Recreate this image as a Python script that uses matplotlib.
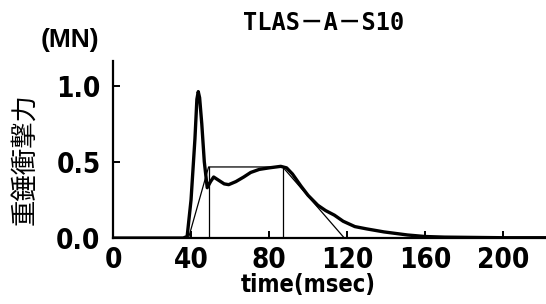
import matplotlib
matplotlib.use("Agg")
import matplotlib.pyplot as plt

# measured impact force (thick curve)
t_meas = [0, 36, 38, 40, 42, 43, 43.7, 44.4, 45.5, 46.8, 48.3, 50, 51.6, 54, 57, 59.3, 63, 67, 70.6,
          75, 80, 86, 89, 92, 96.4, 100, 105, 109, 113.5, 118, 124, 130, 139, 151, 160, 170, 185, 200, 222]
f_meas = [0, 0, 0.01, 0.25, 0.65, 0.91, 0.96, 0.92, 0.75, 0.5, 0.33, 0.37, 0.40, 0.38, 0.355, 0.35, 0.37, 0.40, 0.43,
          0.45, 0.46, 0.47, 0.46, 0.42, 0.34, 0.28, 0.215, 0.18, 0.15, 0.11, 0.075, 0.06, 0.04, 0.02, 0.01, 0.006, 0.004, 0.002, 0.002]

# idealised trapezoid (thin lines)
t_trap = [0, 38.7, 49, 87, 118.6, 222]
f_trap = [0, 0, 0.466, 0.466, 0, 0]
v_lines = [49, 87]

x_ticks = [0, 40, 80, 120, 160, 200]
y_ticks = [0.0, 0.5, 1.0]

fig = plt.figure(figsize=(5.46, 3.04), dpi=100)
ax = fig.add_axes([0.207, 0.217, 0.793, 0.582])

ax.plot(t_meas, f_meas, color="black", lw=2.4, solid_joinstyle="round", zorder=3)
ax.plot(t_trap, f_trap, color="black", lw=0.9, zorder=2)
for v in v_lines:
    ax.plot([v, v], [0, f_trap[2]], color="black", lw=0.9, zorder=2)

ax.set_xlim(0, 222)
ax.set_ylim(0, 1.16)
ax.spines["top"].set_visible(False)
ax.spines["right"].set_visible(False)
ax.spines["left"].set_linewidth(1.6)
ax.spines["bottom"].set_linewidth(1.6)

tick_kw = dict(family="DejaVu Sans", fontstretch="condensed", fontweight="bold", fontsize=20)
ax.set_xticks(x_ticks)
ax.set_yticks(y_ticks)
ax.set_xticklabels([str(x) for x in x_ticks], **tick_kw)
ax.set_yticklabels([f"{y:.1f}" for y in y_ticks], **tick_kw)
ax.tick_params(axis="x", direction="in", length=5, width=1.4, pad=6)
ax.tick_params(axis="y", direction="in", length=5, width=1.4, pad=9)

# x label sits left of the axes centre in the original
ax.set_xlabel("time(msec)", family="DejaVu Sans", fontstretch="condensed",
              fontweight="bold", fontsize=17)
ax.xaxis.set_label_coords(0.45, -0.2)

fig.text(0.045, 0.477, "重錘衝撃力", rotation=90, ha="center", va="center",
         family=["Noto Sans CJK JP", "DejaVu Sans"], fontsize=19)
fig.text(0.128, 0.87, "(MN)", ha="center", va="center",
         family=["Liberation Sans", "DejaVu Sans"], fontweight="bold", fontsize=19)
fig.text(0.592, 0.925, "TLAS－A－S10", ha="center", va="center",
         family=["DejaVu Sans Mono", "Noto Sans CJK JP"], fontweight="bold", fontsize=17)

fig.savefig("out.png", dpi=100)
